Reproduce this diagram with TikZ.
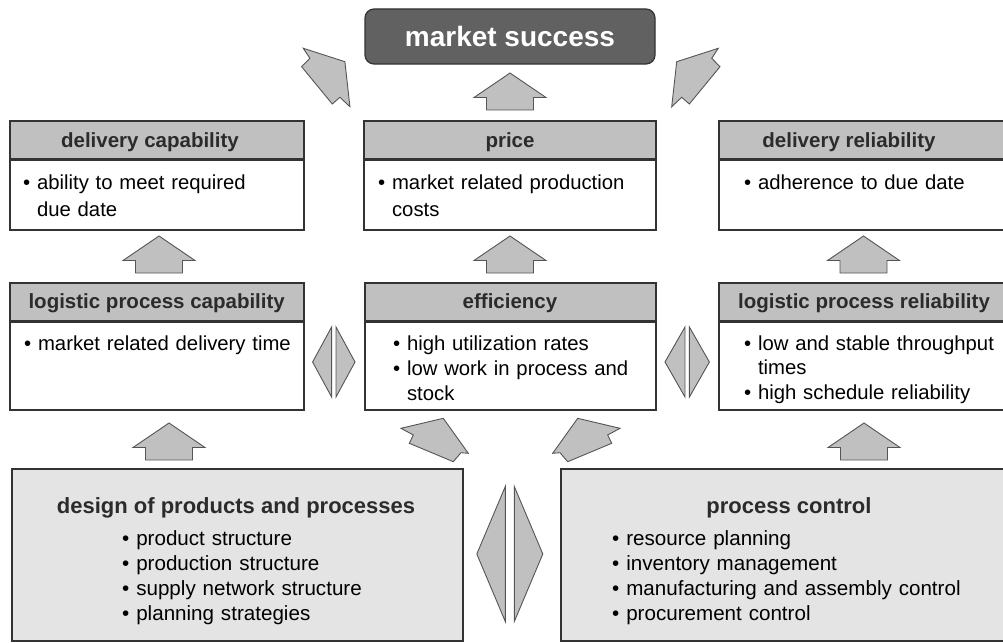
\documentclass[tikz,border=0pt]{standalone}
\usepackage{fontspec}
\setmainfont{Liberation Sans}
\usetikzlibrary{positioning}
\definecolor{framegray}{HTML}{333333}
\definecolor{headgray}{HTML}{C0C0C0}
\definecolor{marketgray}{HTML}{616161}
\definecolor{basegray}{HTML}{E4E4E4}
\definecolor{arrowline}{HTML}{555555}
\definecolor{darktext}{HTML}{2B2B2B}
\tikzset{headbox/.style={draw=framegray,fill=headgray,line width=1.7pt,minimum height=38pt,inner sep=0pt}}
\tikzset{bodybox/.style={draw=framegray,fill=white,line width=1.7pt,inner sep=0pt}}
\tikzset{basebox/.style={draw=framegray,fill=basegray,line width=1.7pt,inner sep=0pt}}
\tikzset{marketbox/.style={draw=framegray,fill=marketgray,line width=1.2pt,rounded corners=9pt,minimum width=290pt,minimum height=55pt,text=white,font=\bfseries\fontsize{28}{32}\selectfont}}
\tikzset{headtext/.style={anchor=base,inner sep=0pt,text=darktext,font=\bfseries\fontsize{20.5}{24}\selectfont}}
\tikzset{basetitle/.style={anchor=base,inner sep=0pt,text=darktext,font=\bfseries\fontsize{22}{26}\selectfont}}
\tikzset{bodytext/.style={anchor=north west,inner sep=0pt,text width=390pt,align=left,font=\fontsize{20.3}{#1}\selectfont},bodytext/.default=26}
\tikzset{basetext/.style={bodytext,font=\fontsize{20.6}{25}\selectfont}}
\tikzset{blockarrow/.style={draw=arrowline,fill=headgray,line width=0.9pt}}
\tikzset{uparrow/.pic={\draw[blockarrow] (0,0) -- (36,24.5) -- (23.5,24.5) -- (23.5,37) -- (-23.5,37) -- (-23.5,24.5) -- (-36,24.5) -- cycle;}}
\newcommand{\bitem}{\par\noindent\strut\textbullet\ }
\newcommand{\bcont}{\par\noindent\hphantom{\textbullet\ }}
\newcommand{\splitdiamond}[5]{%
  \draw[blockarrow] ({#1-#3},{#2-#5}) -- ({#1-#3-#4},#2) -- ({#1-#3},{#2+#5}) -- cycle;
  \draw[blockarrow] ({#1+#3},{#2-#5}) -- ({#1+#3+#4},#2) -- ({#1+#3},{#2+#5}) -- cycle;}

\begin{document}
\begin{tikzpicture}[x=1pt,y=-1pt]
  \useasboundingbox (0,0) rectangle (1003,642);
  \node[marketbox] (market) at (510,36.5) {market success};

  \node[headbox,minimum width=294pt] (dcaphead) at (157,140) {};
  \node[bodybox,minimum width=294pt,minimum height=70pt,anchor=north] (dcapbody) at (157,159) {};
  \node[headtext] (dcaptitle) at (150,147.2) {delivery capability};
  \node[bodytext=27] (dcaptext) at (23,162) {\bitem ability to meet required\bcont due date};

  \node[headbox,minimum width=292pt] (pricehead) at (510,140) {};
  \node[bodybox,minimum width=292pt,minimum height=70pt,anchor=north] (pricebody) at (510,159) {};
  \node[headtext] (pricetitle) at (510,147.2) {price};
  \node[bodytext=27] (pricetext) at (378,162) {\bitem market related production\bcont costs};

  \node[headbox,minimum width=291pt] (drelhead) at (864.5,140) {};
  \node[bodybox,minimum width=291pt,minimum height=70pt,anchor=north] (drelbody) at (864.5,159) {};
  \node[headtext] (dreltitle) at (849,147.2) {delivery reliability};
  \node[bodytext=27] (dreltext) at (744,162) {\bitem adherence to due date};

  \node[headbox,minimum width=294pt] (lcaphead) at (157,302) {};
  \node[bodybox,minimum width=294pt,minimum height=88pt,anchor=north] (lcapbody) at (157,321) {};
  \node[headtext] (lcaptitle) at (156.7,308.4) {logistic process capability};
  \node[bodytext=25] (lcaptext) at (24,325.5) {\bitem market related delivery time};

  \node[headbox,minimum width=291pt] (effhead) at (510.5,302) {};
  \node[bodybox,minimum width=291pt,minimum height=88pt,anchor=north] (effbody) at (510.5,321) {};
  \node[headtext] (efftitle) at (510,308.4) {efficiency};
  \node[bodytext=25] (efftext) at (393,325.5) {\bitem high utilization rates\bitem low work in process and\bcont stock};

  \node[headbox,minimum width=291pt] (lrelhead) at (864.5,302) {};
  \node[bodybox,minimum width=291pt,minimum height=88pt,anchor=north] (lrelbody) at (864.5,321) {};
  \node[headtext] (lreltitle) at (864,308.4) {logistic process reliability};
  \node[bodytext=24.5] (lreltext) at (744,325.5) {\bitem low and stable throughput\bcont times\bitem high schedule reliability};

  \node[basebox,minimum width=451pt,minimum height=172pt] (design) at (237.5,555) {};
  \node[basetitle] (designtitle) at (236,513) {design of products and processes};
  \node[basetext] (designtext) at (122,520.5) {\bitem product structure\bitem production structure\bitem supply network structure\bitem planning strategies};

  \node[basebox,minimum width=449pt,minimum height=172pt] (control) at (785.5,555) {};
  \node[basetitle] (controltitle) at (789,513) {process control};
  \node[basetext] (controltext) at (612,520.5) {\bitem resource planning\bitem inventory management\bitem manufacturing and assembly control\bitem procurement control};

  \foreach \x/\y in {510/73,159/236,510/236,863.5/236,169/423,864/423}
    \pic at (\x,\y) {uparrow};

  \draw[blockarrow] (303.3,48.3) -- (344.9,61.7) -- (349.9,106.7) -- (339.9,97.3) -- (332.3,104) -- (301.6,66.7) -- (309.9,58.3) -- cycle;
  \draw[blockarrow] (718.3,48.3) -- (676.7,61.7) -- (671.7,106.7) -- (681.7,97.3) -- (689.3,104) -- (720,66.7) -- (711.7,58.3) -- cycle;
  \draw[blockarrow] (401,428.3) -- (443.3,418.3) -- (468.3,453.3) -- (461,452.7) -- (453.3,461.7) -- (409.3,443.3) -- (413.3,435) -- cycle;
  \draw[blockarrow] (620,428.3) -- (577.7,418.3) -- (552.7,453.3) -- (560,452.7) -- (567.7,461.7) -- (611.7,443.3) -- (607.7,435) -- cycle;

  \splitdiamond{333.8}{362}{2.2}{19}{35}
  \splitdiamond{687.2}{362}{2.2}{20}{35}
  \splitdiamond{509.8}{554}{4.5}{28.5}{67.5}
\end{tikzpicture}
\end{document}
